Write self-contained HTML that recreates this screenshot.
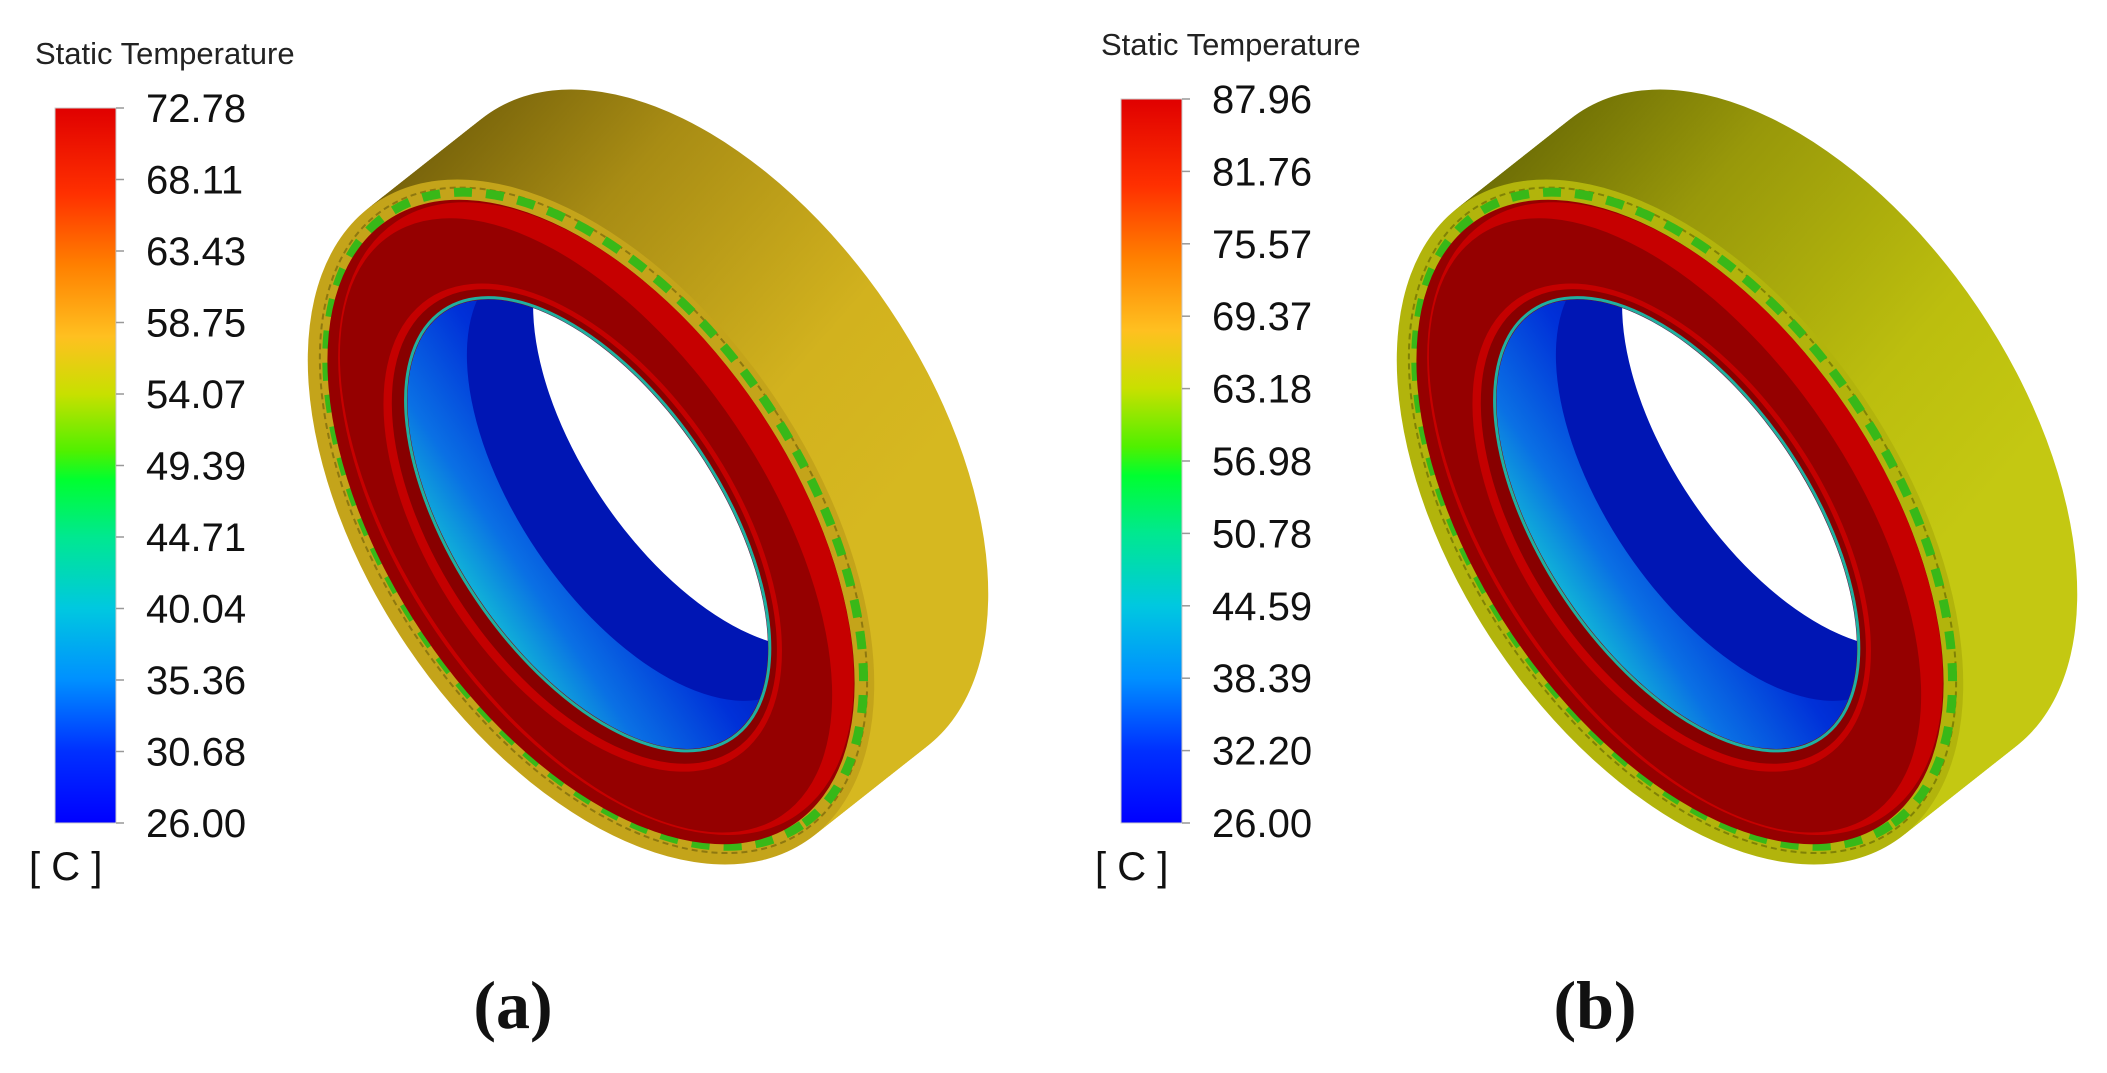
<!DOCTYPE html>
<html><head><meta charset="utf-8"><style>
body{margin:0;background:#fff}
svg{display:block}
</style></head><body>
<svg id="fig" width="2107" height="1073" viewBox="0 0 2107 1073" font-family="Liberation Sans, sans-serif">
<defs>
<linearGradient id="cbar" x1="0" y1="1" x2="0" y2="0">
<stop offset="0" stop-color="#0000ff"/>
<stop offset="0.1" stop-color="#0030ff"/>
<stop offset="0.2" stop-color="#0090ff"/>
<stop offset="0.3" stop-color="#00c8e0"/>
<stop offset="0.4" stop-color="#00e890"/>
<stop offset="0.48" stop-color="#00ff30"/>
<stop offset="0.52" stop-color="#50f000"/>
<stop offset="0.6" stop-color="#c8e000"/>
<stop offset="0.68" stop-color="#ffc020"/>
<stop offset="0.78" stop-color="#ff8000"/>
<stop offset="0.88" stop-color="#ff3000"/>
<stop offset="1" stop-color="#e00000"/>
</linearGradient>
<linearGradient id="yelA" gradientUnits="userSpaceOnUse" x1="400" y1="100" x2="880" y2="520">
<stop offset="0" stop-color="#6a5808"/><stop offset="0.35" stop-color="#a88c14"/><stop offset="0.75" stop-color="#d2b21e"/><stop offset="1" stop-color="#d6b820"/>
</linearGradient>
<linearGradient id="yelB" gradientUnits="userSpaceOnUse" x1="400" y1="100" x2="880" y2="520">
<stop offset="0" stop-color="#626204"/><stop offset="0.35" stop-color="#98980a"/><stop offset="0.75" stop-color="#bcbe0e"/><stop offset="1" stop-color="#c4c812"/>
</linearGradient>
<linearGradient id="blueG" x1="0" y1="1" x2="0" y2="0">
<stop offset="0" stop-color="#10b0d8"/><stop offset="0.2" stop-color="#0a70e4"/><stop offset="0.55" stop-color="#0030d8"/><stop offset="1" stop-color="#0014a8"/>
</linearGradient>
<clipPath id="boreClip"><ellipse cx="0" cy="4" rx="256" ry="132"/></clipPath>
</defs>
<g id="panels"></g>
</svg>
<script>
const panelOffsets=[0,1066];
const ringOffsets=[0,1089];
const panelTitles=['Static Temperature','Static Temperature'];
const tickLabelsA=['72.78','68.11','63.43','58.75','54.07','49.39','44.71','40.04','35.36','30.68','26.00'];
const tickLabelsB=['87.96','81.76','75.57','69.37','63.18','56.98','50.78','44.59','38.39','32.20','26.00'];
const captions=['(a)','(b)'];
const NS='http://www.w3.org/2000/svg';
const root=document.getElementById('panels');
function mk(tag,attrs,parent){const e=document.createElementNS(NS,tag);for(const k in attrs)e.setAttribute(k,attrs[k]);(parent||root).appendChild(e);return e;}
const ANG=56;
function ellPath(cx,cy,a,b){const r=ANG*Math.PI/180,c=Math.cos(r),s=Math.sin(r);
  const x1=cx+a*c,y1=cy+a*s,x2=cx-a*c,y2=cy-a*s;
  return 'M'+x1+' '+y1+' A'+a+' '+b+' '+ANG+' 1 0 '+x2+' '+y2+' A'+a+' '+b+' '+ANG+' 1 0 '+x1+' '+y1+' Z';}

[tickLabelsA,tickLabelsB].forEach((labels,p)=>{
  const ox=panelOffsets[p];
  const top=p===0?108:99, bot=823;
  const g=mk('g',{});
  
  
  const t=mk('text',{x:ox+35,y:top-44,'font-size':31,fill:'#222'},g);
  t.textContent=panelTitles[p];
  
  
  const bar=mk('rect',{x:ox+55,y:top,width:61,height:bot-top,fill:'url(#cbar)',stroke:'#ccc','stroke-width':1},g);
  
  
  const n=labels.length;
  labels.forEach((lab,i)=>{
    const y=top+(bot-top)*i/(n-1);
    const tk=mk('line',{x1:ox+116,x2:ox+124,y1:y,y2:y,stroke:'#999','stroke-width':1.5},g);
    
    
    const tx=mk('text',{x:ox+146,y:y+14,'font-size':40,fill:'#111'},g);
    tx.textContent=lab;
    
    
  });
  const u=mk('text',{x:ox+29,y:bot+57,'font-size':40,fill:'#111'},g);
  u.textContent='[ C ]';
  
  

  // ring
  const rx0=ringOffsets[p];
  const rg=mk('g',{transform:'translate('+rx0+',0)'},g);
  
  
  const cx=591,cy=522,dx=114,dy=-90;
  const yel=p===0?'url(#yelA)':'url(#yelB)';
  for(let k=40;k>=1;k--){const f=k/40;
    mk('path',{d:ellPath(cx+dx*f,cy+dy*f,385,222),fill:yel},rg);}
  const L=mk('g',{transform:'translate('+cx+','+cy+') rotate('+ANG+')'},rg);
  mk('ellipse',{cx:0,cy:0,rx:385,ry:222,fill:p===0?'#c4a41a':'#b2b40c'},L);
  mk('ellipse',{cx:0,cy:-3,rx:375,ry:212,fill:'none',stroke:p===0?'#8e7810':'#808206','stroke-width':2,'stroke-dasharray':'6 4'},L);
  mk('ellipse',{cx:0,cy:-5,rx:369,ry:207,fill:'none',stroke:'#38b818','stroke-width':9,'stroke-dasharray':'18 14'},L);
  mk('ellipse',{cx:0,cy:0,rx:364,ry:202,fill:'#960000'},L);
  mk('ellipse',{cx:0,cy:-6,rx:358,ry:196,fill:'#c60000'},L);
  mk('ellipse',{cx:0,cy:6,rx:350,ry:180,fill:'#950000'},L);
  mk('ellipse',{cx:0,cy:10,rx:276,ry:152,fill:'#c40000'},L);
  mk('ellipse',{cx:0,cy:8,rx:269,ry:145,fill:'#880000'},L);
  mk('ellipse',{cx:0,cy:4,rx:258,ry:134,fill:'none',stroke:'#20b0a0','stroke-width':3},L);
  mk('ellipse',{cx:0,cy:4,rx:256,ry:132,fill:'url(#blueG)'},L);
  const H=mk('g',{'clip-path':'url(#boreClip)'},L);
  mk('ellipse',{cx:-6,cy:-70,rx:254,ry:131,fill:'#0016b4'},H);
  mk('ellipse',{cx:-12,cy:-150,rx:250,ry:128,fill:'#fff'},H);

  const c=mk('text',{x:p===0?513:1595,y:1028,'font-size':68,'font-weight':'bold','text-anchor':'middle',fill:'#111',style:'font-family:"Liberation Serif",serif'},g);
  c.textContent=captions[p];
  
  
});
</script>
</body></html>
